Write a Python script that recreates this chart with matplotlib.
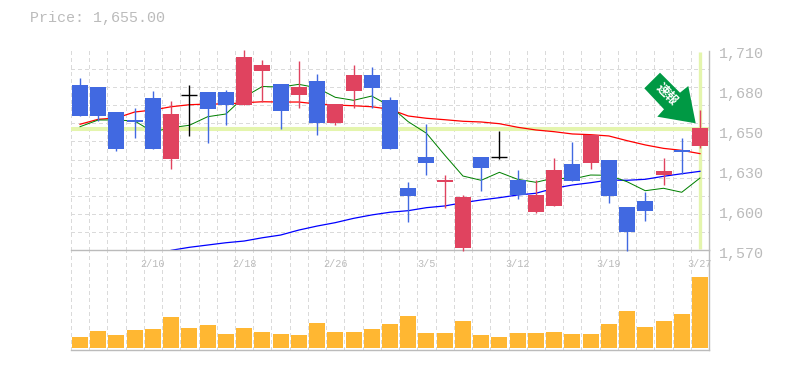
import matplotlib
matplotlib.use('Agg')
import matplotlib.pyplot as plt
from matplotlib.patches import Polygon
from matplotlib.transforms import ScaledTranslation
import numpy as np

W, H = 785, 370

# open, high, low, close per session
opens = [1685.9, 1684.5, 1667, 1661.4, 1676.8, 1634, 1678.7, 1681, 1681, 1671.9, 1695.8,
         1686.6, 1678.9, 1688.7, 1659.3, 1681.7, 1693, 1675.4, 1613.7, 1635.4, 1617.9, 1571.6,
         1635.4, 1635.2, 1619.3, 1596.9, 1601.1, 1630.5, 1631.2, 1633.3, 1600.4, 1604.6,
         1622.8, 1640.4, 1643.2]
highs = [1690.8, 1684.5, 1667, 1670, 1681.7, 1674.7, 1685.9, 1681, 1682.4, 1710.5, 1703.5,
         1686.6, 1702.8, 1693.7, 1668.4, 1700, 1698.6, 1677.5, 1618, 1658.6, 1622.8, 1608.8,
         1635.4, 1653.7, 1626.3, 1619.3, 1634.7, 1646, 1650.9, 1633.3, 1600.4, 1610.9,
         1634.7, 1648.8, 1668.4]
lows = [1664.2, 1660.9, 1639.9, 1649, 1641, 1627, 1650.2, 1645.3, 1657.9, 1671.9, 1674,
        1655.1, 1669.8, 1650.9, 1657.9, 1669.8, 1669.8, 1641, 1589.8, 1622.8, 1599.7, 1569.5,
        1611.6, 1634, 1606, 1596.2, 1601.1, 1618.6, 1627, 1603.2, 1569.5, 1590.6,
        1615.8, 1623.5, 1641.8]
closes = [1664.2, 1664.2, 1641, 1660, 1641, 1665.6, 1678.7, 1669.1, 1671.9, 1705.6, 1700,
          1667.7, 1684.5, 1659.3, 1672.6, 1693, 1683.8, 1641, 1608.1, 1631.2, 1619.3, 1607.4,
          1627.7, 1635.2, 1608.8, 1608.8, 1626.3, 1618.6, 1650.9, 1608.1, 1582.8, 1597.6,
          1625.6, 1638.9, 1655.8]

ma_short = [1656.7, 1661.4, 1661.4, 1660.7, 1653, 1656, 1657.7, 1663.7, 1665.6, 1677.5, 1684.9,
            1684.5, 1686.4, 1684, 1677.3, 1675.2, 1678.2, 1671.2, 1660.2, 1652.1, 1636.8, 1622.1,
            1619.1, 1624.7, 1619.8, 1617.7, 1620.7, 1620, 1622.8, 1622.6, 1618.1, 1611.8,
            1613.5, 1610.7, 1620.7]
ma_mid = [1658.4, 1661.9, 1662.8, 1667, 1668.4, 1670.7, 1672.1, 1672.6, 1672.6, 1673.5, 1674.2,
          1674, 1674, 1672.6, 1671.9, 1671.4, 1670.7, 1668.9, 1664.2, 1662.6, 1661.6, 1660.5,
          1660, 1658.8, 1656.3, 1654.4, 1653.2, 1651.6, 1651.1, 1650.2, 1646.9, 1643.9,
          1641.5, 1640.1, 1637.8]
ma_long = [np.nan] * 5 + [1570, 1572.1, 1573.7, 1575.3, 1576.5, 1578.8, 1580.7, 1584.2, 1587, 1589.4,
                          1592.4, 1594.8, 1596.7, 1597.8, 1599.9, 1601.1, 1603.4, 1605.3, 1606.9, 1608.8,
                          1610, 1613.5, 1615.8, 1617.4, 1619.3, 1619.1, 1619.8, 1621.9, 1623.7, 1625.4]
volumes = [11, 17, 13, 18, 19, 31, 20, 23, 14, 20, 16, 14, 13, 25, 16, 16, 19, 24,
           32, 15, 15, 27, 13, 11, 15, 15, 16, 14, 14, 24, 37, 21, 27, 34, 71]

price_now = 1655
y_ticks = [1570, 1598, 1626, 1654, 1682, 1710]
y_labels = ['1,570', '1,600', '1,630', '1,650', '1,680', '1,710']
date_pos = [4, 9, 14, 19, 24, 29, 34]
date_labels = ['2/10', '2/18', '2/26', '3/5', '3/12', '3/19', '3/27']

RED = '#e0435f'
BLUE = '#4169e1'
GREY = '#bbbbbb'
GRID = '#dadada'
MONO = 'Liberation Mono'


def place(fig, x0, y0, x1, y1):
    return fig.add_axes([x0 / W, 1 - y1 / H, (x1 - x0) / W, (y1 - y0) / H])


def style_grid(ax):
    ax.set_xlim(-0.5, len(opens) - 0.5)
    ax.set_xticks(np.arange(-0.5, len(opens)), minor=True)
    ax.grid(True, which='minor', color=GRID, lw=0.72, ls=(0, (3, 3)), antialiased=False)
    ax.tick_params(which='both', length=0)
    ax.set_axisbelow(True)
    for s in ['top', 'left']:
        ax.spines[s].set_visible(False)
    for s in ['right', 'bottom']:
        ax.spines[s].set_color(GREY)
        ax.spines[s].set_linewidth(1.0)


fig = plt.figure(figsize=(W / 100, H / 100), dpi=100)
fig.text(30 / W, 1 - 18 / H, 'Price: 1,655.00', family=MONO, fontsize=10.8, color=GREY, va='center')

ax = place(fig, 70.9, 50.7, 709.1, 250.3)
ax.set_zorder(3)
style_grid(ax)
ax.set_ylim(1570, 1710)
ax.set_yticks(np.linspace(1570, 1710, 12), minor=True)
ax.yaxis.tick_right()
ax.set_yticks(y_ticks)
ax.set_yticklabels(y_labels, family=MONO, fontsize=10.8, color=GREY)
ax.tick_params(axis='y', which='major', pad=9)
down = ScaledTranslation(-2 / 72, -1.5 / 72, fig.dpi_scale_trans)
for lab in ax.get_yticklabels():
    lab.set_transform(lab.get_transform() + down)
ax.set_xticks(date_pos)
ax.set_xticklabels(date_labels, family=MONO, fontsize=7.3, color=GREY)
ax.tick_params(axis='x', which='major', pad=6)

x = np.arange(len(opens))
ax.axhline(price_now, color='#e4f5ad', lw=2.9, zorder=1)
ax.plot([x[-1], x[-1]], [1571, 1709], color='#e4f5ad', lw=2.4, zorder=1, solid_capstyle='butt')
ax.plot(x, ma_long, color='#0000ff', lw=0.9, zorder=2)
ax.plot(x, ma_mid, color='#ff0000', lw=0.9, zorder=2)
ax.plot(x, ma_short, color='#008000', lw=0.72, zorder=2)

for i in x:
    o, hi, lo, c = opens[i], highs[i], lows[i], closes[i]
    if abs(o - c) < 0.5:
        colour = 'black'
    elif c > o:
        colour = RED
    else:
        colour = BLUE
    ax.vlines(i, lo, hi, color=colour, lw=1.0, zorder=3, clip_on=False)
    if colour == 'black':
        ax.hlines(o, i - 0.44, i + 0.44, color=colour, lw=1.0, zorder=4)
    else:
        ax.bar(i, abs(c - o), bottom=min(o, c), width=0.877, color=colour, lw=0, zorder=4, antialiased=False)

arrow = [(660, 72.7), (680, 92.7), (688.3, 86), (695.7, 123.3), (657.3, 116.7), (664, 109.3), (644.3, 88.3)]
fig.add_artist(Polygon([(a / W, 1 - b / H) for a, b in arrow], closed=True, color='#009944', lw=0,
                       transform=fig.transFigure, zorder=6))
fig.text(667 / W, 1 - 94.5 / H, '速報', family='Noto Sans CJK JP', fontweight='bold', fontsize=9, color='white',
         rotation=-45, rotation_mode='anchor', ha='center', va='center', zorder=7)

ax2 = place(fig, 70.9, 250.3, 709.1, 350)
style_grid(ax2)
ax2.set_ylim(-2, 97.7)
ax2.set_yticks([])
ax2.set_xticks([])
ax2.bar(x, volumes, width=0.877, color='#ffb732', lw=0, zorder=3, antialiased=False)

fig.savefig('out.png', dpi=100)
